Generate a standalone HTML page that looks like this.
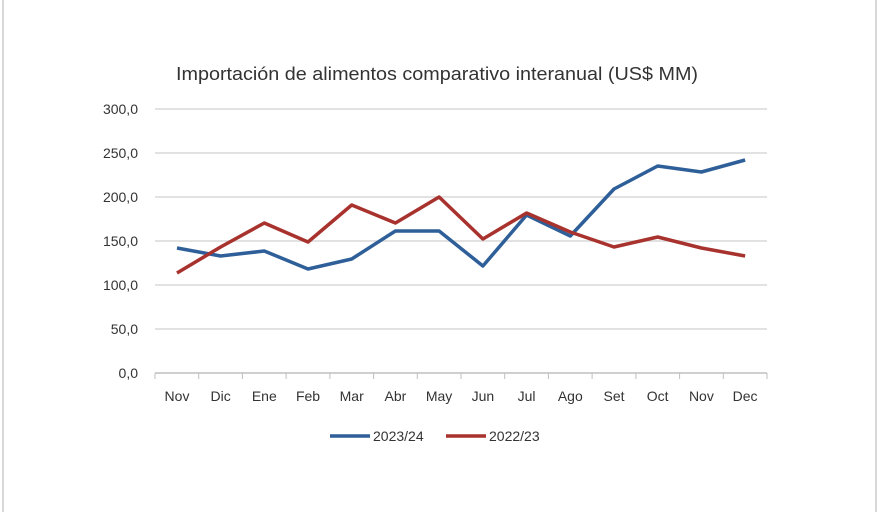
<!DOCTYPE html>
<html><head><style>
body{margin:0;background:#fff;}
svg text{font-family:"Liberation Sans",sans-serif;fill:#333;}
</style></head><body>
<svg width="880" height="512" viewBox="0 0 880 512">
<rect x="0" y="0" width="880" height="512" fill="#fff"/>
<line x1="3" y1="0" x2="3" y2="512" stroke="#d8d8d8" stroke-width="2"/>
<line x1="876" y1="0" x2="876" y2="512" stroke="#d8d8d8" stroke-width="2"/>
<text x="437" y="80" font-size="18" text-anchor="middle" textLength="522" lengthAdjust="spacingAndGlyphs" fill="#333">Importación de alimentos comparativo interanual (US$ MM)</text>
<g stroke="#d9d9d9" stroke-width="1.5">
<line x1="155" y1="109" x2="767" y2="109"/>
<line x1="155" y1="153" x2="767" y2="153"/>
<line x1="155" y1="197" x2="767" y2="197"/>
<line x1="155" y1="241" x2="767" y2="241"/>
<line x1="155" y1="285" x2="767" y2="285"/>
<line x1="155" y1="329" x2="767" y2="329"/>
<line x1="155" y1="373" x2="767" y2="373" stroke="#bfbfbf"/>
</g>
<g stroke="#bfbfbf" stroke-width="1">
<line x1="155" y1="373" x2="155" y2="379"/><line x1="198.7" y1="373" x2="198.7" y2="379"/><line x1="242.4" y1="373" x2="242.4" y2="379"/><line x1="286.1" y1="373" x2="286.1" y2="379"/><line x1="329.9" y1="373" x2="329.9" y2="379"/><line x1="373.6" y1="373" x2="373.6" y2="379"/><line x1="417.3" y1="373" x2="417.3" y2="379"/><line x1="461" y1="373" x2="461" y2="379"/><line x1="504.7" y1="373" x2="504.7" y2="379"/><line x1="548.4" y1="373" x2="548.4" y2="379"/><line x1="592.1" y1="373" x2="592.1" y2="379"/><line x1="635.9" y1="373" x2="635.9" y2="379"/><line x1="679.6" y1="373" x2="679.6" y2="379"/><line x1="723.3" y1="373" x2="723.3" y2="379"/><line x1="767" y1="373" x2="767" y2="379"/>
</g>
<g font-size="14" text-anchor="end">
<text x="138" y="114">300,0</text><text x="138" y="158">250,0</text><text x="138" y="202">200,0</text><text x="138" y="246">150,0</text><text x="138" y="290">100,0</text><text x="138" y="334">50,0</text><text x="138" y="378">0,0</text>
</g>
<g font-size="14" text-anchor="middle">
<text x="177" y="401">Nov</text><text x="220.6" y="401">Dic</text><text x="264.3" y="401">Ene</text><text x="308" y="401">Feb</text><text x="351.7" y="401">Mar</text><text x="395.4" y="401">Abr</text><text x="439.1" y="401">May</text><text x="482.9" y="401">Jun</text><text x="526.6" y="401">Jul</text><text x="570.3" y="401">Ago</text><text x="614" y="401">Set</text><text x="657.7" y="401">Oct</text><text x="701.4" y="401">Nov</text><text x="745.1" y="401">Dec</text>
</g>
<polyline fill="none" stroke="#2e5f99" stroke-width="3.5" stroke-linejoin="round" points="177,248 220.6,256 264.3,251 308,269 351.7,259 395.4,231 439.1,231 482.9,266 526.6,215 570.3,236 614,189 657.7,166 701.4,172 745.1,160"/>
<polyline fill="none" stroke="#a8322d" stroke-width="3.5" stroke-linejoin="round" points="177,273 220.6,247 264.3,223 308,242 351.7,205 395.4,223 439.1,197 482.9,239 526.6,213 570.3,232 614,247 657.7,237 701.4,248 745.1,256"/>
<line x1="330" y1="436" x2="370" y2="436" stroke="#2e5f99" stroke-width="3.5"/>
<text x="373" y="441" font-size="14">2023/24</text>
<line x1="446" y1="436" x2="486" y2="436" stroke="#a8322d" stroke-width="3.5"/>
<text x="489" y="441" font-size="14">2022/23</text>
</svg>
</body></html>
